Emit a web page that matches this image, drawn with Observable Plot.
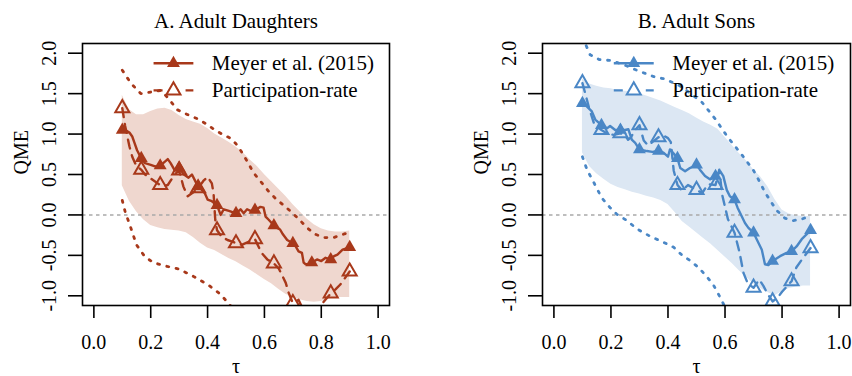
<!DOCTYPE html>
<html>
<head>
<meta charset="utf-8">
<script src="https://cdn.jsdelivr.net/npm/d3@7"></script>
<script src="https://cdn.jsdelivr.net/npm/@observablehq/plot@0.6"></script>
<style>
  body { margin: 0; background: #fff; }
  #fig { display: flex; width: 852px; height: 376px; }
  #fig svg, #fig svg text { font-family: "Liberation Serif", "Times New Roman", serif !important; }
</style>
</head>
<body>
<div id="fig"></div>
<script>
// Quantile marginal effects (QME) by quantile tau, for adult daughters (A) and adult sons (B).

const xTicks = [0, 0.2, 0.4, 0.6, 0.8, 1.0];
const yTicks = [-1, -0.5, 0, 0.5, 1, 1.5, 2];
const titles = ["A. Adult Daughters", "B. Adult Sons"];
const seriesNames = ["Meyer et al. (2015)", "Participation-rate"];
const colorsLine = ["#a8381a", "#4a87c6"];
const colorsBand = ["#efd7cf", "#dce7f3"];

// quantiles that carry a triangle marker
const markerTau = [0.1, 0.1667, 0.2333, 0.3, 0.3667, 0.4333, 0.5, 0.5667, 0.6333, 0.7, 0.7667, 0.8333, 0.9];

// ---- A. Adult Daughters ----
const tauMeyerA = [0.1, 0.115, 0.125, 0.135, 0.142, 0.152, 0.1667, 0.18, 0.2, 0.215, 0.2333, 0.25, 0.26, 0.27, 0.283, 0.3, 0.317, 0.333, 0.345, 0.355, 0.3667, 0.38, 0.39, 0.4, 0.415, 0.4333, 0.446, 0.457, 0.475, 0.5, 0.516, 0.527, 0.539, 0.551, 0.5667, 0.586, 0.597, 0.604, 0.615, 0.6333, 0.645, 0.655, 0.665, 0.68, 0.7, 0.71, 0.72, 0.732, 0.738, 0.745, 0.755, 0.7667, 0.785, 0.8, 0.815, 0.8333, 0.845, 0.857, 0.875, 0.9];
const qmeMeyerA = [1.05, 1.04, 1.02, 0.97, 0.90, 0.80, 0.70, 0.64, 0.62, 0.60, 0.61, 0.66, 0.69, 0.64, 0.56, 0.58, 0.50, 0.46, 0.50, 0.43, 0.35, 0.31, 0.27, 0.19, 0.17, 0.12, 0.00, 0.07, 0.05, 0.02, 0.07, 0.02, 0.07, 0.05, 0.06, 0.10, 0.09, -0.02, -0.06, -0.13, -0.16, -0.18, -0.24, -0.31, -0.35, -0.39, -0.45, -0.47, -0.59, -0.61, -0.61, -0.59, -0.55, -0.57, -0.53, -0.55, -0.51, -0.49, -0.43, -0.40];

const tauPartA = [0.1, 0.11, 0.125, 0.135, 0.15, 0.1667, 0.18, 0.2, 0.2333, 0.25, 0.26, 0.275, 0.29, 0.3, 0.315, 0.33, 0.35, 0.3667, 0.385, 0.4, 0.415, 0.421, 0.427, 0.4333, 0.45, 0.47, 0.487, 0.5, 0.52, 0.54, 0.5667, 0.59, 0.61, 0.6333, 0.65, 0.675, 0.685, 0.7, 0.72, 0.74, 0.77, 0.8, 0.8333, 0.85, 0.867, 0.9];
const qmePartA = [1.32, 1.10, 0.85, 0.72, 0.60, 0.56, 0.50, 0.45, 0.37, 0.36, 0.37, 0.45, 0.52, 0.55, 0.35, 0.23, 0.28, 0.33, 0.42, 0.47, 0.39, 0.27, -0.06, -0.19, -0.27, -0.31, -0.33, -0.35, -0.37, -0.34, -0.30, -0.47, -0.55, -0.60, -0.66, -0.84, -0.96, -1.09, -1.05, -1.20, -1.30, -1.11, -0.97, -0.92, -0.86, -0.70];

const tauBand = [0.1, 0.125, 0.15, 0.175, 0.2, 0.225, 0.25, 0.275, 0.3, 0.325, 0.35, 0.375, 0.4, 0.425, 0.45, 0.475, 0.5, 0.525, 0.55, 0.575, 0.6, 0.625, 0.65, 0.675, 0.7, 0.725, 0.75, 0.775, 0.8, 0.825, 0.85, 0.875, 0.9];
const bandHiA = [1.48, 1.30, 1.24, 1.24, 1.28, 1.31, 1.32, 1.29, 1.23, 1.18, 1.15, 1.12, 1.07, 1.00, 0.95, 0.90, 0.84, 0.77, 0.68, 0.60, 0.50, 0.41, 0.32, 0.23, 0.13, 0.04, -0.05, -0.12, -0.17, -0.20, -0.21, -0.21, -0.20];
const bandLoA = [0.36, 0.17, 0.04, -0.06, -0.13, -0.16, -0.18, -0.19, -0.20, -0.22, -0.28, -0.35, -0.41, -0.44, -0.49, -0.54, -0.58, -0.63, -0.68, -0.74, -0.80, -0.85, -0.92, -0.98, -1.02, -1.05, -1.07, -1.08, -1.07, -1.04, -1.02, -1.02, -1.02];

const tauDotHiA = [0.1, 0.13, 0.165, 0.2, 0.235, 0.26, 0.294, 0.33, 0.364, 0.393, 0.422, 0.45, 0.48, 0.5, 0.516, 0.54, 0.562, 0.59, 0.615, 0.64, 0.674, 0.7, 0.726, 0.75, 0.78, 0.81, 0.843, 0.87, 0.9];
const dotHiA = [1.79, 1.63, 1.50, 1.52, 1.54, 1.45, 1.30, 1.24, 1.19, 1.13, 1.06, 1.00, 0.95, 0.88, 0.80, 0.66, 0.52, 0.40, 0.29, 0.20, 0.10, 0.02, -0.07, -0.16, -0.24, -0.28, -0.28, -0.25, -0.21];
const tauDotLoA = [0.1, 0.11, 0.12, 0.13, 0.15, 0.18, 0.21, 0.25, 0.3, 0.35, 0.4, 0.445, 0.48, 0.51];
const dotLoA = [0.18, 0.04, -0.06, -0.16, -0.37, -0.52, -0.59, -0.63, -0.67, -0.76, -0.86, -0.98, -1.12, -1.25];

// ---- B. Adult Sons ----
const tauMeyerB = [0.1, 0.116, 0.133, 0.145, 0.1667, 0.186, 0.197, 0.215, 0.2333, 0.25, 0.261, 0.273, 0.285, 0.3, 0.326, 0.345, 0.3667, 0.384, 0.4, 0.407, 0.42, 0.4333, 0.443, 0.46, 0.477, 0.5, 0.512, 0.53, 0.547, 0.5667, 0.583, 0.594, 0.606, 0.617, 0.6333, 0.644, 0.659, 0.67, 0.682, 0.7, 0.711, 0.729, 0.74, 0.752, 0.7667, 0.793, 0.816, 0.8333, 0.851, 0.869, 0.9];
const qmeMeyerB = [1.38, 1.34, 1.28, 1.18, 1.11, 1.07, 1.10, 1.05, 1.05, 1.05, 1.06, 0.93, 0.89, 0.81, 0.79, 0.78, 0.79, 0.77, 0.72, 0.81, 0.76, 0.70, 0.58, 0.54, 0.58, 0.62, 0.56, 0.48, 0.44, 0.48, 0.54, 0.48, 0.31, 0.23, 0.19, 0.09, -0.02, -0.10, -0.16, -0.22, -0.30, -0.43, -0.61, -0.62, -0.57, -0.51, -0.47, -0.45, -0.39, -0.30, -0.19];

const tauPartB = [0.1, 0.11, 0.125, 0.14, 0.155, 0.1667, 0.19, 0.21, 0.2333, 0.25, 0.26, 0.27, 0.285, 0.3, 0.315, 0.33, 0.345, 0.3667, 0.385, 0.4, 0.41, 0.42, 0.4333, 0.45, 0.47, 0.48, 0.5, 0.52, 0.54, 0.5667, 0.58, 0.59, 0.6, 0.61, 0.6333, 0.65, 0.665, 0.68, 0.7, 0.72, 0.735, 0.75, 0.7667, 0.785, 0.8, 0.8333, 0.85, 0.87, 0.9];
const qmePartB = [1.63, 1.50, 1.30, 1.14, 1.08, 1.05, 1.00, 0.99, 1.01, 0.98, 0.93, 0.96, 1.05, 1.11, 0.92, 0.86, 0.90, 0.96, 0.98, 0.95, 0.90, 0.55, 0.37, 0.30, 0.37, 0.35, 0.31, 0.27, 0.38, 0.37, 0.56, 0.25, 0.10, -0.05, -0.22, -0.45, -0.72, -0.85, -0.90, -0.80, -0.88, -0.98, -1.07, -1.02, -0.95, -0.82, -0.65, -0.55, -0.41];

const bandHiB = [1.68, 1.62, 1.59, 1.57, 1.56, 1.54, 1.53, 1.52, 1.50, 1.47, 1.44, 1.41, 1.37, 1.33, 1.29, 1.25, 1.20, 1.15, 1.11, 1.06, 0.96, 0.86, 0.76, 0.67, 0.56, 0.47, 0.35, 0.19, 0.06, 0.01, -0.01, -0.02, -0.02];
const bandLoB = [0.77, 0.60, 0.51, 0.44, 0.38, 0.34, 0.31, 0.28, 0.26, 0.23, 0.21, 0.18, 0.13, 0.03, -0.08, -0.15, -0.22, -0.29, -0.36, -0.44, -0.52, -0.60, -0.69, -0.77, -0.85, -0.91, -0.96, -1.00, -0.95, -0.91, -0.89, -0.88, -0.88];

const tauDotHiB = [0.1, 0.127, 0.16, 0.2, 0.244, 0.29, 0.35, 0.39, 0.44, 0.48, 0.52, 0.565, 0.61, 0.66, 0.7, 0.72, 0.74, 0.76, 0.78, 0.81, 0.84, 0.87, 0.9];
const dotHiB = [2.20, 1.98, 1.92, 1.91, 1.86, 1.79, 1.71, 1.68, 1.60, 1.50, 1.39, 1.19, 0.96, 0.74, 0.55, 0.42, 0.28, 0.17, 0.06, -0.04, -0.07, -0.05, -0.01];
const tauDotLoB = [0.1, 0.116, 0.14, 0.168, 0.197, 0.22, 0.256, 0.29, 0.34, 0.38, 0.42, 0.45, 0.48, 0.51, 0.54, 0.56, 0.58, 0.6];
const dotLoB = [0.72, 0.56, 0.40, 0.21, 0.09, 0.01, -0.07, -0.17, -0.27, -0.33, -0.40, -0.50, -0.57, -0.66, -0.78, -0.87, -1.00, -1.14];

// legend key, placed in tau / QME units near the top of each panel
const legendRowQ = [1.876, 1.54];
const legendLineTau = [0.21, 0.35];
const legendMarkTau = 0.28;
const legendTextTau = 0.415;

const pairs = (tau, val) => tau.map((t, i) => ({t, v: val[i]}));
const onMarker = d => markerTau.some(m => Math.abs(m - d.t) < 5e-4);
const fmt = d => d.toFixed(1);

const FONT = "Liberation Serif";
const LW = 2.4;
const DASH = "9,7";
const DOT = "2,7.5";

function panel(i, meyer, part, bandLo, bandHi, dotHi, dotLo, marginLeft, marginRight) {
  const color = colorsLine[i];
  const band = tauBand.map((t, k) => ({t, lo: bandLo[k], hi: bandHi[k]}));
  const key = seriesNames.map((label, k) => ({label, q: legendRowQ[k]}));
  return Plot.plot({
    width: 426,
    height: 376,
    marginTop: 43,
    marginBottom: 71,
    marginLeft,
    marginRight,
    x: {domain: [-0.04, 1.04]},
    y: {domain: [-1.12, 2.12]},
    style: {fontFamily: FONT, fontSize: "20px", color: "black", background: "white", overflow: "visible"},
    marks: [
      Plot.areaY(band, {x: "t", y1: "lo", y2: "hi", fill: colorsBand[i], clip: true}),
      Plot.ruleY([0], {stroke: "#a9a9a9", strokeWidth: 1.6, strokeDasharray: "3.5,3.5"}),
      Plot.line(dotHi, {x: "t", y: "v", stroke: color, strokeWidth: 2.8, strokeDasharray: DOT, strokeLinecap: "round", clip: true}),
      Plot.line(dotLo, {x: "t", y: "v", stroke: color, strokeWidth: 2.8, strokeDasharray: DOT, strokeLinecap: "round", clip: true}),
      Plot.line(part, {x: "t", y: "v", stroke: color, strokeWidth: LW, strokeDasharray: DASH, clip: true}),
      Plot.line(meyer, {x: "t", y: "v", stroke: color, strokeWidth: LW, clip: true}),
      Plot.dot(part.filter(onMarker), {x: "t", y: "v", symbol: "triangle", r: 5.2, stroke: color, strokeWidth: 2, fill: "none", clip: true}),
      Plot.dot(meyer.filter(onMarker), {x: "t", y: "v", symbol: "triangle", r: 4.8, fill: color, stroke: "none", clip: true}),
      // legend
      Plot.link(key.slice(0, 1), {x1: () => legendLineTau[0], x2: () => legendLineTau[1], y1: "q", y2: "q", stroke: color, strokeWidth: LW}),
      Plot.link(key.slice(1), {x1: () => legendLineTau[0], x2: () => legendLineTau[1], y1: "q", y2: "q", stroke: color, strokeWidth: LW, strokeDasharray: DASH}),
      Plot.dot(key.slice(0, 1), {x: () => legendMarkTau, y: "q", symbol: "triangle", r: 4.8, fill: color, stroke: "none"}),
      Plot.dot(key.slice(1), {x: () => legendMarkTau, y: "q", symbol: "triangle", r: 5.2, stroke: color, strokeWidth: 2, fill: "white"}),
      Plot.text(key, {x: () => legendTextTau, y: "q", text: "label", textAnchor: "start", lineAnchor: "middle", fontSize: 21, fontFamily: FONT}),
      // frame and axes
      Plot.frame({stroke: "black", strokeWidth: 1.6}),
      Plot.axisX({ticks: xTicks, tickFormat: fmt, tickSize: 13, tickPadding: 16, strokeWidth: 1.6, label: null, fontFamily: FONT}),
      Plot.axisY({ticks: yTicks, tickFormat: fmt, tickSize: 14, tickPadding: 13, tickRotate: -90, strokeWidth: 1.6, label: null, fontFamily: FONT}),
      Plot.text([titles[i]], {frameAnchor: "top", dy: -16, lineAnchor: "bottom", fontSize: 21, fontFamily: FONT}),
      Plot.text(["QME"], {frameAnchor: "left", dx: -69, rotate: -90, lineAnchor: "top", fontFamily: FONT}),
      Plot.text(["\u03c4"], {frameAnchor: "bottom", dy: 67, lineAnchor: "bottom", fontFamily: FONT})
    ]
  });
}

const fig = document.getElementById("fig");
fig.append(
  panel(0, pairs(tauMeyerA, qmeMeyerA), pairs(tauPartA, qmePartA), bandLoA, bandHiA,
        pairs(tauDotHiA, dotHiA), pairs(tauDotLoA, dotLoA), 82, 37),
  panel(1, pairs(tauMeyerB, qmeMeyerB), pairs(tauPartB, qmePartB), bandLoB, bandHiB,
        pairs(tauDotHiB, dotHiB), pairs(tauDotLoB, dotLoB), 116, 2)
);
</script>
</body>
</html>
